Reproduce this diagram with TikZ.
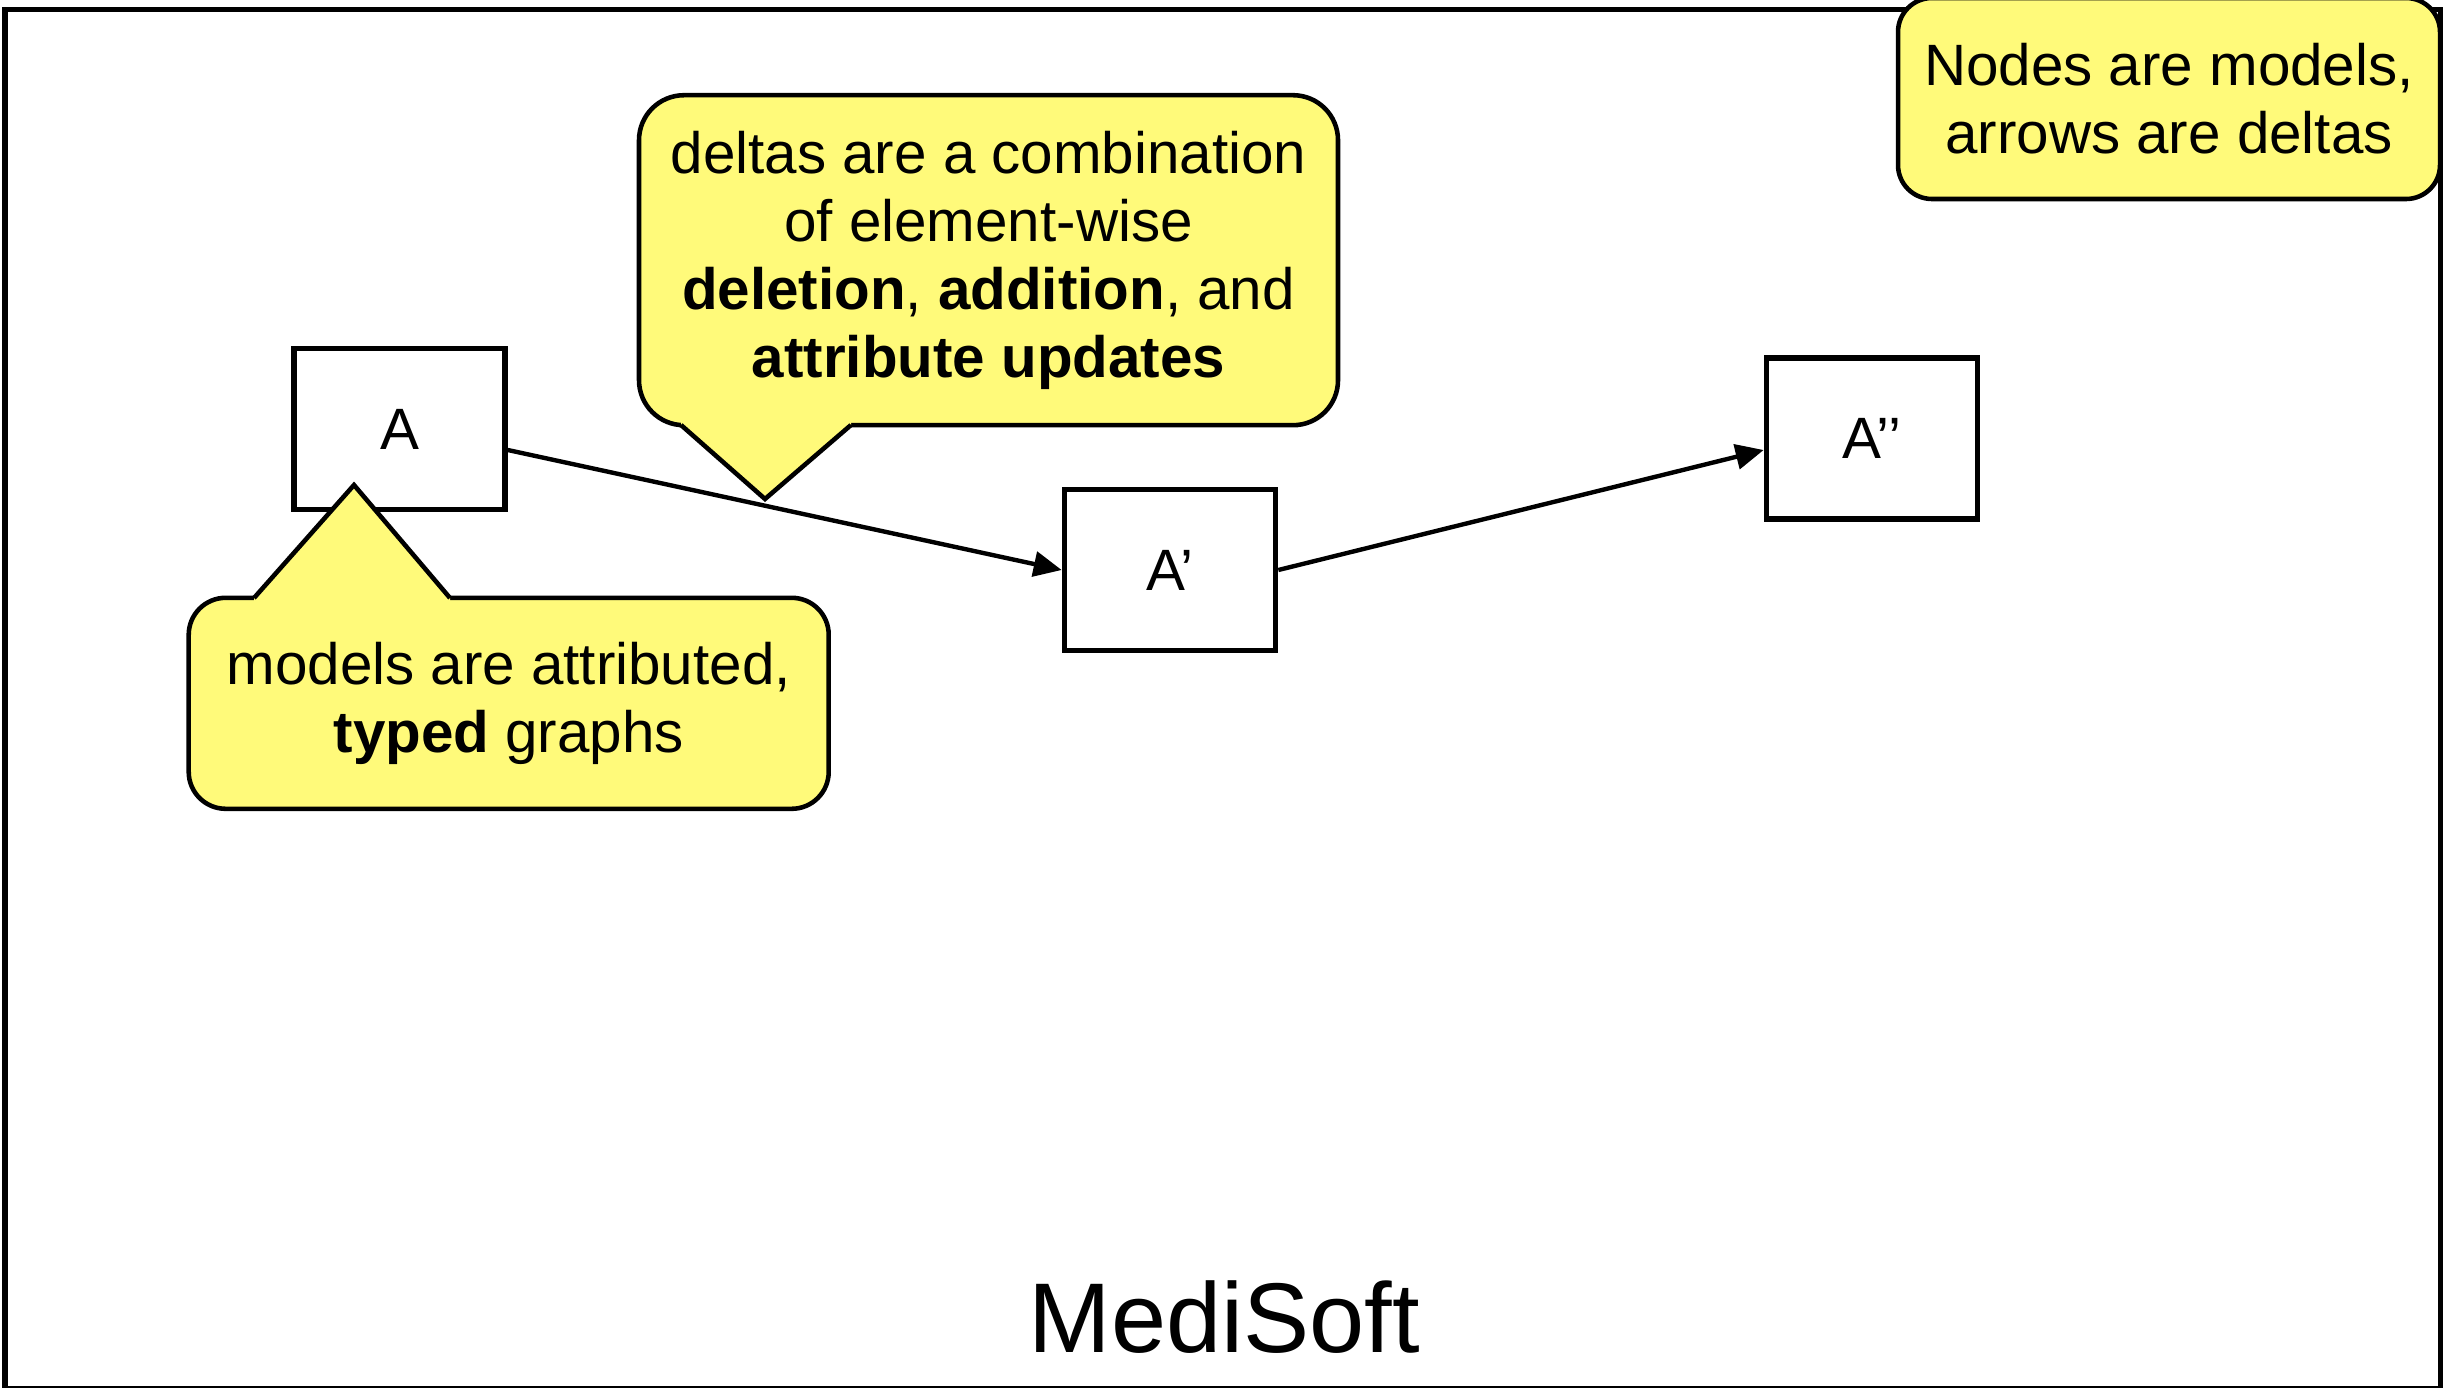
\documentclass[tikz,border=0pt]{standalone}
\usepackage{fontspec}
\usepackage{tikz}
\setmainfont{Liberation Sans}
\usetikzlibrary{arrows.meta}
\definecolor{noteyellow}{RGB}{255,250,122}

\begin{document}
\begin{tikzpicture}[
    model/.style={draw,line width=1.6pt,minimum width=2.11cm,minimum height=1.61cm,font=\fontsize{16.6}{19.4}\selectfont},
    delta/.style={line width=1.25pt,-{Triangle[length=0.28cm,width=0.25cm]}},
    note/.style={draw,fill=noteyellow,line width=1.3pt,align=center,font=\fontsize{16.6}{19.4}\selectfont},
    pointer/.style={line width=1.3pt,line join=miter}]
    \useasboundingbox (0,0) rectangle (24.43,13.87);
    \draw[line width=1.5pt] (0.05,13.775) rectangle (24.41,-0.02);
    \node [anchor=base,font=\fontsize{28.2}{34}\selectfont] (title) at (12.24,0.35) {MediSoft};
    \node [model] (A) at (3.995,9.58) {A};
    \node [model] (A1) at (11.70,8.17) {A’};
    \node [model] (A2) at (18.72,9.485) {A’’};
    \draw[delta] ([yshift=-0.21cm]A.east) -- (A1.west);
    \draw[delta] (A1.east) -- ([yshift=-0.115cm]A2.west);
    \node [note,rounded corners=0.45cm,minimum width=6.99cm,minimum height=3.30cm] (D) at (9.885,11.268)
        {deltas are a combination\\of element-wise\\\textbf{deletion}, \textbf{addition}, and\\\textbf{attribute updates}};
    \coordinate (Dtip) at (7.65,8.88);
    \fill[noteyellow] (6.81,9.67) -- (6.81,9.62) -- (Dtip) -- (8.51,9.62) -- (8.51,9.67) -- cycle;
    \draw[pointer] (6.81,9.62) -- (Dtip) -- (8.51,9.62);
    \node [note,rounded corners=0.37cm,minimum width=6.40cm,minimum height=2.11cm] (M) at (5.087,6.837)
        {models are attributed,\\\textbf{typed} graphs};
    \coordinate (Mtip) at (3.54,9.02);
    \fill[noteyellow] (2.54,7.84) -- (2.54,7.89) -- (Mtip) -- (4.50,7.89) -- (4.50,7.84) -- cycle;
    \draw[pointer] (2.54,7.89) -- (Mtip) -- (4.50,7.89);
    \node [note,rounded corners=0.34cm,minimum width=5.42cm,minimum height=2.01cm] (N) at (21.69,12.885)
        {Nodes are models,\\arrows are deltas};
\end{tikzpicture}
\end{document}
